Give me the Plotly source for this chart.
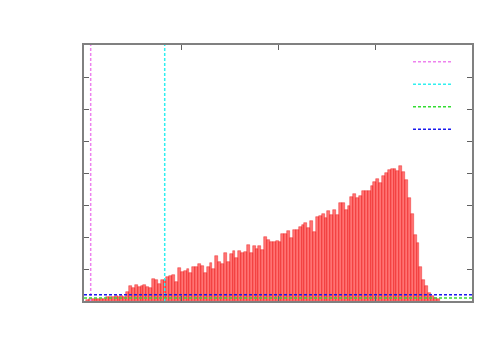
import numpy as np
import plotly.graph_objects as go

# histogram bin heights (left to right), y axis runs 0..8
bin_start = 0.0206
bin_width = 0.02963
heights_px = [
    1.5, 2, 2, 2, 2.5, 2, 2.5, 4, 4.5, 4, 5, 4.5, 5, 4.5,
    9, 15, 13.5, 16, 14, 15, 16, 14.5, 13.5,
    22, 21.5, 17.5, 21.5, 21.5, 24, 25.5, 26.5, 19,
    33, 29.5, 30, 32, 28.5, 34, 34, 37.5, 35.5,
    28, 34, 38, 32.5, 45.5, 39, 37, 48, 39,
    47, 50, 43, 50, 48.5, 49.5, 56.5, 48, 55,
    52, 55, 51, 64, 61.5, 59.5, 59, 60, 59.5,
    67, 67, 70, 63, 71, 71.5, 74.5, 76, 78.5,
    73.5, 80, 69, 84, 85, 87.5, 83.5, 90.5, 86.5,
    91, 86, 98.5, 98.5, 91, 95.5, 104.5, 107, 103.5,
    105, 110, 110, 110.5, 115.5, 119.5, 122, 118.5, 125.5,
    128, 131.5, 132, 132.5, 130, 135.5, 129, 121, 103.5,
    87, 66.5, 58.5, 34.5, 21, 15, 8, 5, 3.5, 2.5,
]
counts = [h / 32 for h in heights_px]

# reference lines
vline_magenta = 0.069
vline_cyan = 0.832
hline_green = 0.094
hline_blue = 0.197

x_range = [0, 4]
y_range = [0, 8]

centers = bin_start + bin_width * (np.arange(len(counts)) + 0.5)

fig = go.Figure()
fig.add_trace(go.Bar(
    x=centers, y=counts, width=bin_width,
    marker=dict(color="rgba(255,0,0,0.55)",
                line=dict(color="rgba(230,0,0,0.6)", width=0.6)),
    showlegend=False,
))

dash = "3px,2px"
fig.add_trace(go.Scatter(x=[vline_magenta, vline_magenta], y=y_range, mode="lines",
                         line=dict(color="#ee82ee", width=1.5, dash=dash), name=" "))
fig.add_trace(go.Scatter(x=[vline_cyan, vline_cyan], y=y_range, mode="lines",
                         line=dict(color="#30f0f0", width=1.5, dash=dash), name=" "))
fig.add_trace(go.Scatter(x=x_range, y=[hline_green, hline_green], mode="lines",
                         line=dict(color="#33dd33", width=1.5, dash=dash), name=" "))
fig.add_trace(go.Scatter(x=x_range, y=[hline_blue, hline_blue], mode="lines",
                         line=dict(color="#1a1aee", width=1.5, dash=dash), name=" "))

axis = dict(showline=True, mirror="ticks", linecolor="#808080", linewidth=1.5,
            ticks="inside", ticklen=5, tickcolor="#606060", tickwidth=1,
            showticklabels=False, showgrid=False, zeroline=False)
fig.update_xaxes(range=x_range, dtick=1, **axis)
fig.update_yaxes(range=y_range, dtick=1, **axis)

# page body adds ~8px offset, so margins are trimmed to keep the plot box in place
fig.update_layout(
    width=500, height=350,
    margin=dict(l=76, r=36, t=37, b=57),
    plot_bgcolor="white", paper_bgcolor="white",
    bargap=0,
    legend=dict(x=0.835, y=0.998, xanchor="left", yanchor="top",
                bgcolor="rgba(0,0,0,0)", tracegroupgap=0,
                font=dict(size=15), itemwidth=40),
)

fig.write_html("out.html")
